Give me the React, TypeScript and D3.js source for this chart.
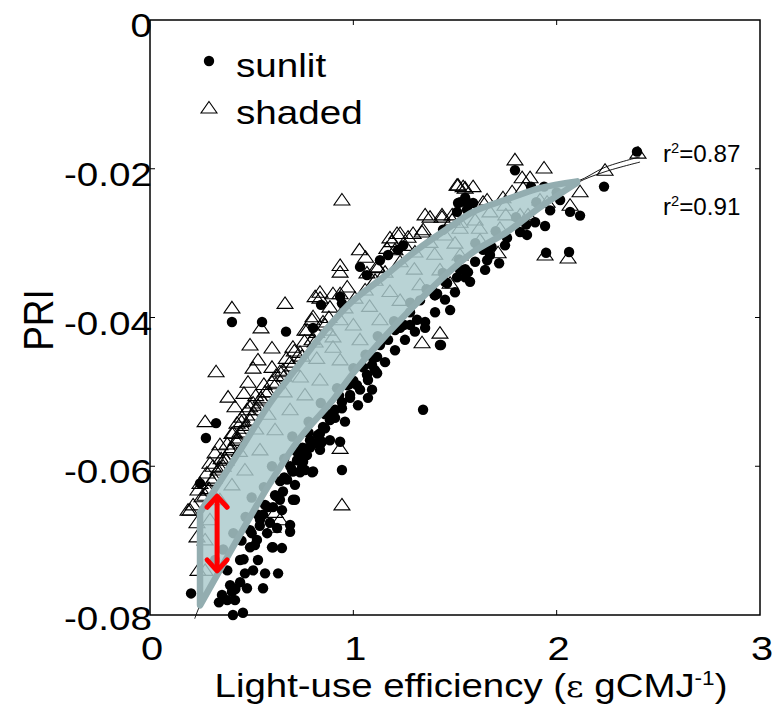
import React from "react";
import * as d3 from "d3";

// ---- data (LUE, PRI) ----
const sunlit: [number, number][] = [
  [0.403,-0.0406],[0.551,-0.0406],[0.669,-0.0419],[1.033,-0.0332],[1.067,-0.0343],[0.841,-0.0383],[0.935,-0.0372],[0.944,-0.0381],[0.802,-0.0414],[1.146,-0.0430],[1.22,-0.0414],
  [0.325,-0.0542],[0.275,-0.0562],[0.246,-0.0623],[0.202,-0.0771],[0.339,-0.0783],[0.408,-0.0800],[0.457,-0.0797],[0.477,-0.0764],[0.556,-0.0764],[0.630,-0.0744],[0.605,-0.0709],[0.649,-0.0710],[1.072,-0.0508],[0.944,-0.0605],[0.935,-0.0567],[0.797,-0.0608],[0.713,-0.0645],[0.689,-0.0688],
  [0.418,-0.0780],[0.403,-0.0769],[0.443,-0.0756],[0.566,-0.0744],[0.507,-0.0740],[0.467,-0.0744],[0.531,-0.0726],[0.600,-0.0709],[0.492,-0.0709],[0.526,-0.0699],[0.576,-0.0690],[0.590,-0.0676],[0.556,-0.0665],[0.625,-0.0683],[0.605,-0.0655],[0.639,-0.0645],[0.703,-0.0645],[0.654,-0.0634],[0.674,-0.0618],[0.703,-0.0607],[0.723,-0.0592],[0.753,-0.0578],[0.802,-0.0607],[0.748,-0.0601],[0.772,-0.0585],[0.820,-0.0569],[0.846,-0.0567],[0.787,-0.0565],
  [1.117,-0.0475],[1.067,-0.0477],[1.018,-0.0491],[0.984,-0.0504],[0.969,-0.0491],[0.944,-0.0514],[0.910,-0.0524],[0.885,-0.0538],[0.851,-0.0547],[0.836,-0.0556],[0.836,-0.0571],[0.762,-0.0576],[0.753,-0.0594],[0.738,-0.0608],[1.343,-0.0524],[1.431,-0.0437],[1.117,-0.0453],[1.092,-0.0464],[1.048,-0.0467],
  [1.402,-0.0370],[1.476,-0.0390],[1.461,-0.0354],[1.510,-0.0346],[1.550,-0.0346],[1.230,-0.0414],[1.279,-0.0410],[1.313,-0.0403],[1.353,-0.0414],[1.426,-0.0437],[1.441,-0.0282],[1.525,-0.0245],[1.559,-0.0245],[1.510,-0.0258],[1.131,-0.0323],[1.171,-0.0316],[1.220,-0.0309],[1.245,-0.0303],
  [1.795,-0.0202],[1.874,-0.0224],[1.938,-0.0224],[1.515,-0.0246],[1.550,-0.0239],[1.589,-0.0246],[1.559,-0.0255],[2.233,-0.0224],[2.066,-0.0258],[2.115,-0.0263],[1.943,-0.0277],[1.854,-0.0289],[1.756,-0.0293],[1.948,-0.0313],[2.061,-0.0312],[1.717,-0.0327],[1.658,-0.0323],[1.564,-0.0339],[1.638,-0.0309],[2.395,-0.0177],[1.412,-0.0368],
  [1.205,-0.0417],[1.279,-0.0393],[1.328,-0.0377],[1.387,-0.0363],[1.451,-0.0352],[1.131,-0.0437],[1.082,-0.0451],[1.171,-0.0430],[1.230,-0.0410],[1.525,-0.0336],[1.599,-0.0325],[1.672,-0.0316],[1.746,-0.0303],[1.820,-0.0285],[1.894,-0.0272],[1.968,-0.0256],[2.017,-0.0242],
  [0.46,-0.0725],[0.50,-0.0690],[0.54,-0.0680],[0.58,-0.0655],[0.62,-0.0640],[0.66,-0.0615],[0.69,-0.0600],[0.72,-0.0580],[0.78,-0.0555],[0.86,-0.0530],[0.93,-0.0505],[1.00,-0.0485],[0.42,-0.0765],[0.38,-0.0780],
  [0.566,-0.0652],[0.615,-0.0639],[0.664,-0.0616],[0.698,-0.0605],[0.738,-0.0589],[0.787,-0.0575],[0.826,-0.0558],[0.861,-0.0549],[0.910,-0.0535],[0.944,-0.0522],[0.984,-0.0508],[1.033,-0.0497],[1.072,-0.0484],[1.107,-0.0471],[1.156,-0.0460],[1.205,-0.0444],[1.254,-0.0430],[1.303,-0.0419],[1.353,-0.0406],[1.402,-0.0393],[1.451,-0.0376],[1.500,-0.0366],[1.574,-0.0352],[1.648,-0.0336],
  [0.713,-0.0625],[0.762,-0.0605],[0.836,-0.0578],[0.885,-0.0565],[0.959,-0.0540],[1.023,-0.0518],[1.092,-0.0497],[0.492,-0.0686],[0.516,-0.0706],[0.443,-0.0726],[0.394,-0.0760],[0.354,-0.0773],[0.541,-0.0672],[0.649,-0.0659],[0.689,-0.0679],
  [0.32,-0.0726],[0.36,-0.0712],[0.41,-0.0690],[0.47,-0.0668],[0.50,-0.0642],[0.56,-0.0628],[0.60,-0.0600],[0.66,-0.0590],[0.70,-0.0560],[0.78,-0.0540],[0.84,-0.0515],[0.92,-0.0495],[1.00,-0.0468],[1.06,-0.0450],[1.12,-0.0425],[1.20,-0.0405],[1.28,-0.0380],[1.36,-0.0362],[1.44,-0.0340],[1.52,-0.0322],[1.60,-0.0300],[1.70,-0.0284],[1.80,-0.0265],[1.90,-0.0245],[2.00,-0.0232],[0.38,-0.0740],[0.45,-0.0700],[0.53,-0.0665],[0.64,-0.0620],[0.75,-0.0575],[0.88,-0.0530],[0.98,-0.0490],[1.10,-0.0455],[1.25,-0.0410],[1.40,-0.0370],[1.55,-0.0335],[1.68,-0.0305],[1.85,-0.0275],
];

const shaded: [number, number][] = [
  [0.944,-0.0242],[1.030,-0.0309],[1.060,-0.0319],[0.935,-0.0330],[0.935,-0.0339],[1.180,-0.0293],[1.165,-0.0307],[1.215,-0.0287],[0.836,-0.0366],[0.812,-0.0372],[0.970,-0.0359],[0.900,-0.0368],[1.115,-0.0332],[0.664,-0.0381],[0.403,-0.0387],[0.546,-0.0414],[0.797,-0.0403],[0.492,-0.0437],[0.600,-0.0441],[0.703,-0.0440],[0.762,-0.0417],[0.900,-0.0426],
  [0.325,-0.0473],[0.507,-0.0468],[0.531,-0.0457],[0.482,-0.0487],[0.384,-0.0507],[0.418,-0.0520],[0.462,-0.0502],[0.546,-0.0508],[0.600,-0.0467],[0.654,-0.0471],[0.271,-0.0540],[0.477,-0.0524],[0.507,-0.0515],[0.428,-0.0542],[0.452,-0.0534],[0.403,-0.0556],[0.433,-0.0565],
  [0.187,-0.0659],[0.212,-0.0652],[0.236,-0.0632],[0.231,-0.0676],[0.231,-0.0695],[0.246,-0.0623],[0.280,-0.0609],[0.295,-0.0596],[0.320,-0.0582],[0.344,-0.0571],[0.256,-0.0641],[0.236,-0.0740],[0.639,-0.0672],[0.605,-0.0682],[0.615,-0.0662],[0.944,-0.0652],[0.935,-0.0576],[0.197,-0.0659],
  [0.935,-0.0368],[0.836,-0.0374],[0.802,-0.0399],[0.851,-0.0406],[0.772,-0.0417],[0.885,-0.0386],[1.067,-0.0340],[1.121,-0.0333],[1.190,-0.0298],[1.230,-0.0287],[1.205,-0.0309],[1.269,-0.0292],[1.294,-0.0287],[1.338,-0.0285],[1.254,-0.0303],[1.353,-0.0262],[1.377,-0.0265],[1.436,-0.0265],[1.486,-0.0269],[1.510,-0.0222],[1.540,-0.0224],[1.426,-0.0421],[1.338,-0.0434],[1.343,-0.0282],[1.476,-0.0354],
  [1.795,-0.0188],[1.938,-0.0199],[1.830,-0.0212],[1.869,-0.0212],[1.781,-0.0231],[1.835,-0.0226],[1.515,-0.0222],[1.550,-0.0226],[1.589,-0.0224],[1.658,-0.0242],[1.736,-0.0239],[1.638,-0.0245],[1.486,-0.0262],[1.525,-0.0272],[1.436,-0.0262],[1.953,-0.0245],[2.115,-0.0231],[2.066,-0.0249],[2.238,-0.0202],[2.056,-0.0320],[1.943,-0.0316],[1.712,-0.0313],[1.859,-0.0262],[2.400,-0.0179],
  [0.271,-0.0639],[0.305,-0.0619],[0.334,-0.0605],[0.369,-0.0589],[0.394,-0.0578],[0.423,-0.0565],[0.443,-0.0554],[0.472,-0.0545],[0.502,-0.0531],[0.531,-0.0518],[0.566,-0.0500],[0.600,-0.0487],[0.639,-0.0473],[0.689,-0.0460],[0.738,-0.0447],[0.797,-0.0430],[0.861,-0.0410],[0.959,-0.0387],[1.008,-0.0374],[1.058,-0.0363],[1.107,-0.0350],[1.156,-0.0339],[1.230,-0.0325],[1.303,-0.0312],[1.377,-0.0299],[1.451,-0.0289],[1.525,-0.0280],[1.599,-0.0269],[1.672,-0.0258],[1.746,-0.0249],
  [0.29,-0.0630],[0.31,-0.0600],[0.35,-0.0590],[0.38,-0.0570],[0.41,-0.0555],[0.45,-0.0540],[0.49,-0.0520],[0.52,-0.0505],[0.56,-0.0490],[0.62,-0.0478],[0.67,-0.0455],[0.71,-0.0445],[0.76,-0.0432],[0.82,-0.0420],[0.88,-0.0400],
  [0.285,-0.0632],[0.315,-0.0616],[0.344,-0.0602],[0.374,-0.0592],[0.403,-0.0575],[0.433,-0.0562],[0.462,-0.0549],[0.492,-0.0538],[0.521,-0.0524],[0.551,-0.0511],[0.580,-0.0500],[0.620,-0.0489],[0.659,-0.0479],[0.698,-0.0465],[0.748,-0.0452],[0.812,-0.0433],[0.876,-0.0417],[0.935,-0.0403],
  [0.295,-0.0672],[0.344,-0.0645],[0.403,-0.0625],[0.467,-0.0605],[0.541,-0.0578],[0.615,-0.0551],[0.689,-0.0524],[0.762,-0.0504],[0.836,-0.0484],[0.935,-0.0457],[1.033,-0.0430],[1.131,-0.0403],[1.230,-0.0377],[1.328,-0.0356],[1.426,-0.0336],[1.525,-0.0316],[1.623,-0.0296],[1.721,-0.0280],[1.820,-0.0262],[1.918,-0.0242],[0.271,-0.0699],[0.271,-0.0740],
  [0.36,-0.0600],[0.44,-0.0580],[0.52,-0.0550],[0.58,-0.0530],[0.66,-0.0500],[0.74,-0.0480],[0.82,-0.0455],[0.90,-0.0440],[1.00,-0.0410],[1.08,-0.0385],[1.18,-0.0365],[1.30,-0.0335],[1.40,-0.0315],[1.50,-0.0300],[1.62,-0.0280],[1.75,-0.0262],
];

// band between the two fitted curves
const bandUpper: [number, number][] = [
  [0.246,-0.0662],[0.428,-0.0585],[0.590,-0.0515],[0.723,-0.0467],[0.836,-0.0426],[0.984,-0.0381],[1.146,-0.0346],[1.313,-0.0309],[1.476,-0.0278],[1.589,-0.0258],[1.756,-0.0241],[1.918,-0.0226],[2.100,-0.0217],
];
const bandLower: [number, number][] = [
  [0.246,-0.0787],[0.428,-0.0699],[0.590,-0.0623],[0.738,-0.0562],[0.900,-0.0511],[0.999,-0.0475],[1.131,-0.0433],[1.279,-0.0390],[1.426,-0.0350],[1.589,-0.0312],[1.756,-0.0285],[1.918,-0.0252],[2.100,-0.0219],
];
const shadedFitTail: [number, number][] = [[2.238,-0.0198],[2.41,-0.0184]];
const sunlitFitHead: [number, number][] = [[0.22,-0.0805]];
const sunlitFitTail: [number, number][] = [[2.238,-0.0204],[2.41,-0.0191]];

const arrowX = 0.33;
const arrowY: [number, number] = [-0.0639, -0.0742];

const xTicks = [0, 1, 2, 3];
const yTicks = [0, -0.02, -0.04, -0.06, -0.08];
const yTickLabels = ["0", "-0.02", "-0.04", "-0.06", "-0.08"];
const r2Labels = ["0.87", "0.91"];
const legendLabels = ["sunlit", "shaded"];

const W = 784, H = 708;
const FONT = "Arial, 'Liberation Sans', sans-serif";
const SX = 1.17;

export default function App() {
  const x = d3.scaleLinear().domain([0, 3]).range([150, 760]);
  const y = d3.scaleLinear().domain([-0.08, 0]).range([615, 20]);
  const line = d3.line<[number, number]>().x(d => x(d[0])).y(d => y(d[1])).curve(d3.curveCatmullRom);

  const up = line(bandUpper) || "";
  const lo = (line([...bandLower].reverse()) || "").replace(/^M/, "L");
  const bandPath = up + lo + "Z";
  const shadedFit = line([...bandUpper, ...shadedFitTail]) || "";
  const sunlitFit = line([...sunlitFitHead, ...bandLower, ...sunlitFitTail]) || "";

  const tri = "M0,-6.5L8,5L-8,5Z";
  const [x0, x1] = x.range();
  const [yb, yt] = y.range();

  const ax = x(arrowX), ay1 = y(arrowY[0]), ay2 = y(arrowY[1]);

  const txt = (s: React.ReactNode, px: number, py: number, size: number, anchor: string, sx = SX, key?: any) => (
    <text key={key} transform={`translate(${px},${py}) scale(${sx},1)`} fontSize={size} textAnchor={anchor} fontFamily={FONT} fill="#000">{s}</text>
  );

  return (
    <svg width={W} height={H} style={{ position: "absolute", left: 0, top: 0, background: "#fff" }}>
      <rect width={W} height={H} fill="#fff" />
      {/* points */}
      <g>
        {sunlit.map((d, i) => <circle key={"s" + i} cx={x(d[0])} cy={y(d[1])} r={5.2} fill="#000" />)}
        {shaded.map((d, i) => <path key={"h" + i} d={tri} transform={`translate(${x(d[0])},${y(d[1])})`} fill="none" stroke="#000" strokeWidth={1.1} />)}
      </g>
      {/* fit lines */}
      <path d={shadedFit} fill="none" stroke="#000" strokeWidth={0.9} />
      <path d={sunlitFit} fill="none" stroke="#000" strokeWidth={0.9} />
      {/* band */}
      <path d={bandPath} fill="#abcacd" fillOpacity={0.84} stroke="#93adb0" strokeWidth={6.5} strokeLinejoin="round" />
      {/* red arrow */}
      <g stroke="#ff0000" strokeWidth={5} fill="none" strokeLinecap="round" strokeLinejoin="round">
        <line x1={ax} x2={ax} y1={ay1 + 2} y2={ay2 - 2} />
        <path d={`M${ax - 10},${ay1 + 12}L${ax},${ay1 + 1}L${ax + 10},${ay1 + 12}`} />
        <path d={`M${ax - 10},${ay2 - 12}L${ax},${ay2 - 1}L${ax + 10},${ay2 - 12}`} />
      </g>
      {/* frame */}
      <rect x={x0} y={yt} width={x1 - x0} height={yb - yt} fill="none" stroke="#000" strokeWidth={1.5} />
      {xTicks.slice(1, -1).map(t => (
        <g key={"xt" + t} stroke="#000" strokeWidth={1}>
          <line x1={x(t)} x2={x(t)} y1={yb} y2={yb - 5} />
          <line x1={x(t)} x2={x(t)} y1={yt} y2={yt + 5} />
        </g>
      ))}
      {yTicks.slice(1, -1).map(t => (
        <g key={"yt" + t} stroke="#000" strokeWidth={1}>
          <line x1={x0} x2={x0 + 5} y1={y(t)} y2={y(t)} />
          <line x1={x1} x2={x1 - 5} y1={y(t)} y2={y(t)} />
        </g>
      ))}
      {/* tick labels */}
      {yTicks.map((t, i) => txt(yTickLabels[i], 152, y(t) + (i === yTicks.length - 1 ? 15 : 17), 33, "end", SX, "yl" + i))}
      {xTicks.map((t, i) => txt(String(t), x(t) + 2, 660, 34, "middle", SX, "xl" + i))}
      {/* axis titles */}
      {txt(<>Light-use efficiency (<tspan fontFamily="'DejaVu Serif', serif" fontSize={30}>ε</tspan> gCMJ<tspan dy={-12} fontSize={20}>-1</tspan><tspan dy={12}>)</tspan></>, 471, 697, 34, "middle", 1.13)}
      <text transform={`translate(53,320) rotate(-90) scale(1,${SX})`} fontSize={37} textAnchor="middle" fontFamily={FONT}>PRI</text>
      {/* legend */}
      <circle cx={209} cy={61} r={5.2} fill="#000" />
      {txt(legendLabels[0], 236, 77, 33, "start", SX)}
      <path d={tri} transform="translate(209,108)" fill="none" stroke="#000" strokeWidth={1.1} />
      {txt(legendLabels[1], 236, 124, 33, "start", SX)}
      {/* r2 */}
      {r2Labels.map((v, i) => txt(<>r<tspan dy={-9} fontSize={14}>2</tspan><tspan dy={9}>={v}</tspan></>, 663, 162 + i * 53, 23, "start", 1.05, "r" + i))}
    </svg>
  );
}
